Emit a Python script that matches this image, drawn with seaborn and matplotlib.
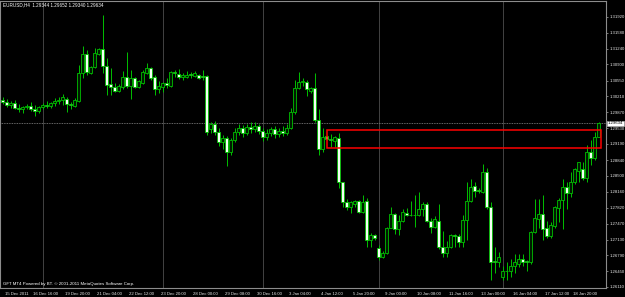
import numpy as np
import pandas as pd
import matplotlib
matplotlib.use("Agg")
import matplotlib.pyplot as plt
import matplotlib.transforms as mtransforms
from matplotlib.patches import Rectangle
import seaborn as sns

# ---------------- data (EURUSD H4) ----------------
opens = [1.3014, 1.3010, 1.3003, 1.3008, 1.2997, 1.2993, 1.2999, 1.3001, 1.2995, 1.2990,
         1.2999, 1.3003, 1.3001, 1.3008, 1.3012, 1.3014, 1.3016, 1.3005, 1.3001, 1.3012,
         1.3072, 1.3113, 1.3072, 1.3085, 1.3113, 1.3124, 1.3087, 1.3048, 1.3042, 1.3033,
         1.3042, 1.3063, 1.3044, 1.3061, 1.3042, 1.3051, 1.3072, 1.3083, 1.3063, 1.3036,
         1.3042, 1.3051, 1.3044, 1.3074, 1.3070, 1.3063, 1.3063, 1.3070, 1.3066, 1.3068,
         1.3066, 1.3066, 1.2950, 1.2962, 1.2945, 1.2924, 1.2932, 1.2902, 1.2928, 1.2945,
         1.2954, 1.2943, 1.2956, 1.2950, 1.2958, 1.2947, 1.2934, 1.2943, 1.2950, 1.2941,
         1.2947, 1.2943, 1.2954, 1.2988, 1.3040, 1.3053, 1.3053, 1.3033, 1.3040, 1.2971,
         1.2907, 1.2937, 1.2930, 1.2926, 1.2932, 1.2836, 1.2793, 1.2784, 1.2790, 1.2795,
         1.2773, 1.2795, 1.2713, 1.2722, 1.2694, 1.2676, 1.2685, 1.2739, 1.2769, 1.2735,
         1.2754, 1.2771, 1.2767, 1.2765, 1.2765, 1.2778, 1.2790, 1.2752, 1.2741, 1.2752,
         1.2698, 1.2685, 1.2696, 1.2722, 1.2720, 1.2707, 1.2756, 1.2795, 1.2829, 1.2820,
         1.2816, 1.2859, 1.2784, 1.2666, 1.2664, 1.2633, 1.2646, 1.2646, 1.2657, 1.2661,
         1.2672, 1.2666, 1.2664, 1.2730, 1.2758, 1.2769, 1.2737, 1.2720, 1.2743, 1.2782,
         1.2799, 1.2827, 1.2814, 1.2836, 1.2861, 1.2864, 1.2846, 1.2902, 1.2889, 1.29344]
highs = [1.3020, 1.3016, 1.3012, 1.3014, 1.3005, 1.3001, 1.3005, 1.3010, 1.3003, 1.3001,
         1.3008, 1.3012, 1.3010, 1.3018, 1.3020, 1.3027, 1.3020, 1.3010, 1.3018, 1.3089,
         1.3130, 1.3122, 1.3087, 1.3126, 1.3126, 1.3197, 1.3104, 1.3083, 1.3051, 1.3048,
         1.3076, 1.3117, 1.3079, 1.3063, 1.3057, 1.3079, 1.3094, 1.3085, 1.3068, 1.3055,
         1.3053, 1.3061, 1.3076, 1.3079, 1.3081, 1.3072, 1.3076, 1.3074, 1.3076, 1.3070,
         1.3079, 1.3068, 1.2967, 1.2969, 1.2954, 1.2939, 1.2937, 1.2932, 1.2954, 1.2962,
         1.2960, 1.2962, 1.2965, 1.2967, 1.2962, 1.2954, 1.2950, 1.2956, 1.2958, 1.2954,
         1.2958, 1.2962, 1.2997, 1.3057, 1.3074, 1.3061, 1.3057, 1.3042, 1.3072, 1.2995,
         1.2954, 1.2939, 1.2941, 1.2937, 1.2943, 1.2838, 1.2801, 1.2795, 1.2799, 1.2799,
         1.2810, 1.2803, 1.2728, 1.2724, 1.2702, 1.2689, 1.2741, 1.2784, 1.2771, 1.2765,
         1.2778, 1.2782, 1.2795, 1.2810, 1.2816, 1.2793, 1.2793, 1.2760, 1.2763, 1.2790,
         1.2732, 1.2709, 1.2724, 1.2724, 1.2724, 1.2767, 1.2838, 1.2844, 1.2836, 1.2825,
         1.2876, 1.2868, 1.2793, 1.2696, 1.2687, 1.2657, 1.2664, 1.2672, 1.2681, 1.2681,
         1.2683, 1.2670, 1.2732, 1.2801, 1.2801, 1.2808, 1.2752, 1.2750, 1.2786, 1.2803,
         1.2844, 1.2838, 1.2859, 1.2868, 1.2881, 1.2881, 1.2917, 1.2928, 1.2945, 1.29652]
lows = [1.3005, 1.2999, 1.2997, 1.2993, 1.2988, 1.2986, 1.2995, 1.2990, 1.2980, 1.2986,
        1.2995, 1.2997, 1.2997, 1.3001, 1.3005, 1.3003, 1.2988, 1.2993, 1.2999, 1.3010,
        1.3061, 1.3068, 1.3070, 1.3083, 1.3111, 1.3072, 1.3025, 1.3025, 1.3031, 1.3031,
        1.3036, 1.3040, 1.3016, 1.3040, 1.3040, 1.3048, 1.3070, 1.3057, 1.3025, 1.3029,
        1.3031, 1.3040, 1.3042, 1.3063, 1.3059, 1.3057, 1.3061, 1.3061, 1.3063, 1.3059,
        1.3057, 1.2939, 1.2943, 1.2939, 1.2915, 1.2907, 1.2872, 1.2894, 1.2924, 1.2939,
        1.2934, 1.2939, 1.2943, 1.2945, 1.2941, 1.2926, 1.2928, 1.2937, 1.2932, 1.2934,
        1.2937, 1.2939, 1.2950, 1.2984, 1.3036, 1.3044, 1.3023, 1.3029, 1.2967, 1.2896,
        1.2902, 1.2928, 1.2913, 1.2913, 1.2825, 1.2784, 1.2776, 1.2771, 1.2784, 1.2771,
        1.2771, 1.2698, 1.2698, 1.2713, 1.2670, 1.2674, 1.2683, 1.2737, 1.2724, 1.2722,
        1.2750, 1.2763, 1.2763, 1.2741, 1.2763, 1.2763, 1.2750, 1.2728, 1.2739, 1.2692,
        1.2676, 1.2676, 1.2694, 1.2698, 1.2698, 1.2698, 1.2713, 1.2793, 1.2805, 1.2814,
        1.2814, 1.2778, 1.2627, 1.2642, 1.2655, 1.2627, 1.2627, 1.2633, 1.2642, 1.2653,
        1.2657, 1.2646, 1.2661, 1.2728, 1.2739, 1.2713, 1.2717, 1.2717, 1.2739, 1.2750,
        1.2735, 1.2778, 1.2805, 1.2833, 1.2838, 1.2842, 1.2838, 1.2874, 1.2885, 1.29340]
closes = [1.3010, 1.3003, 1.3008, 1.2997, 1.2993, 1.2999, 1.3001, 1.2995, 1.2990, 1.2999,
          1.3003, 1.3001, 1.3008, 1.3012, 1.3014, 1.3020, 1.3005, 1.3003, 1.3014, 1.3072,
          1.3113, 1.3074, 1.3085, 1.3115, 1.3124, 1.3087, 1.3046, 1.3042, 1.3033, 1.3044,
          1.3063, 1.3044, 1.3061, 1.3042, 1.3055, 1.3074, 1.3083, 1.3061, 1.3038, 1.3044,
          1.3051, 1.3046, 1.3074, 1.3072, 1.3063, 1.3068, 1.3068, 1.3068, 1.3072, 1.3061,
          1.3063, 1.2945, 1.2962, 1.2945, 1.2924, 1.2932, 1.2902, 1.2928, 1.2945, 1.2954,
          1.2943, 1.2956, 1.2950, 1.2958, 1.2947, 1.2934, 1.2943, 1.2950, 1.2941, 1.2947,
          1.2943, 1.2954, 1.2988, 1.3040, 1.3053, 1.3055, 1.3036, 1.3040, 1.2971, 1.2907,
          1.2934, 1.2930, 1.2927, 1.2934, 1.2836, 1.2793, 1.2784, 1.2793, 1.2797, 1.2773,
          1.2793, 1.2713, 1.2722, 1.2717, 1.2676, 1.2685, 1.2739, 1.2769, 1.2735, 1.2754,
          1.2773, 1.2767, 1.2765, 1.2767, 1.2778, 1.2790, 1.2752, 1.2741, 1.2758, 1.2696,
          1.2685, 1.2696, 1.2722, 1.2720, 1.2707, 1.2756, 1.2795, 1.2827, 1.2818, 1.2818,
          1.2859, 1.2784, 1.2664, 1.2664, 1.2676, 1.2646, 1.2645, 1.2657, 1.2664, 1.2672,
          1.2664, 1.2665, 1.2730, 1.2760, 1.2769, 1.2735, 1.2720, 1.2745, 1.2784, 1.2799,
          1.2827, 1.2814, 1.2838, 1.2864, 1.2879, 1.2846, 1.2902, 1.2889, 1.2934, 1.29634]

x_label_text = ["15 Dec 2011", "16 Dec 16:00", "19 Dec 20:00", "21 Dec 04:00", "22 Dec 12:00",
                "23 Dec 20:00", "28 Dec 00:00", "29 Dec 08:00", "30 Dec 16:00", "3 Jan 04:00",
                "4 Jan 12:00", "5 Jan 20:00", "9 Jan 00:00", "10 Jan 08:00", "11 Jan 16:00",
                "13 Jan 00:00", "16 Jan 04:00", "17 Jan 12:00", "18 Jan 20:00"]
x_label_bars = [0, 7, 15, 23, 31, 39, 47, 55, 63, 71, 79, 87, 95, 103, 111, 119, 127, 135, 142]
y_ticks = [1.31920, 1.31580, 1.31240, 1.30900, 1.30550, 1.30210, 1.29870, 1.29530, 1.29190,
           1.28840, 1.28500, 1.28160, 1.27820, 1.27470, 1.27130, 1.26790, 1.26450, 1.26110]
week_start_bars = [10, 40, 65, 94, 125]
bid_price = 1.29634
zone_bars = (81, 149.6)
zone_prices = (1.29097, 1.29484)
title_text = "EURUSD,H4  1.29344 1.29652 1.29340 1.29634"
footer_text = "GFT MT4 Powered by BT. \u00a9 2001-2011 MetaQuotes Software Corp."

# ---------------- style ----------------
sns.set_theme(style="dark", rc={"axes.facecolor": "black", "figure.facecolor": "black"})
plt.rcParams["font.family"] = ["Liberation Sans", "DejaVu Sans"]

W, H = 625, 297
fig = plt.figure(figsize=(W / 100, H / 100), dpi=100)
fig.patch.set_facecolor("black")
ax = fig.add_axes([0, 9 / H, 606 / W, 287 / H])
ax.set_facecolor("black")

df = pd.DataFrame({"open": opens, "high": highs, "low": lows, "close": closes})
df["bar"] = np.arange(len(df))
up = df["close"] >= df["open"]
body_lo = np.minimum(df["open"], df["close"])
body_h = (df["close"] - df["open"]).abs()

wick = "#00c000"
ax.vlines(df["bar"], df["low"], df["high"], color=wick, linewidth=0.7, zorder=3)
ax.bar(df["bar"][up], body_h[up], bottom=body_lo[up], width=0.72,
       color="#001a00", edgecolor=wick, linewidth=0.6, zorder=4)
ax.bar(df["bar"][~up], body_h[~up], bottom=body_lo[~up], width=0.72,
       color="#f4fff4", edgecolor=wick, linewidth=0.6, zorder=4)

# period separators and bid line
for b in week_start_bars:
    ax.axvline(b, color="#9a9a9a", linestyle=(0, (1.2, 1.2)), linewidth=0.6, zorder=1)
ax.axhline(bid_price, color="#8a8a8a", linestyle=(0, (1, 1)), linewidth=0.6, zorder=1)

# red zone rectangle
ax.add_patch(Rectangle((zone_bars[0], zone_prices[0]), zone_bars[1] - zone_bars[0],
                       zone_prices[1] - zone_prices[0], fill=False,
                       edgecolor="#ff0000", linewidth=1.1, zorder=5))

# limits
step = (y_ticks[0] - y_ticks[-1]) / 270.0
ax.set_ylim(y_ticks[-1] - 1 * step, y_ticks[0] + 16 * step)
ax.set_xlim(-2.7 / 4, (606 - 2.7) / 4)

# axes styling
for s in ax.spines.values():
    s.set_color("#8c8c8c")
    s.set_linewidth(0.8)
ax.grid(False)
ax.yaxis.tick_right()
ax.set_yticks(y_ticks)
ax.set_yticklabels([f"{v:.5f}" for v in y_ticks])
ax.tick_params(axis="y", colors="#8c8c8c", labelcolor="#e8e8e8", length=1.5, width=0.6,
               pad=1.0, labelsize=3.1, direction="out")
ax.set_xticks(x_label_bars)
ax.set_xticklabels(x_label_text)
ax.tick_params(axis="x", colors="#8c8c8c", labelcolor="#e8e8e8", length=2, width=0.6,
               pad=0.8, labelsize=3.1, direction="out")
offset = mtransforms.ScaledTranslation(2 / 100, 0, fig.dpi_scale_trans)
for lab in ax.get_xticklabels():
    lab.set_horizontalalignment("left")
    lab.set_transform(lab.get_transform() + offset)

# current price box
trans = mtransforms.blended_transform_factory(ax.transAxes, ax.transData)
ax.text(1.0 + 2.0 / 606, bid_price, f"{bid_price:.5f}", transform=trans, ha="left",
        va="center", fontsize=3.1, color="black", zorder=10, clip_on=False,
        bbox=dict(facecolor="white", edgecolor="#c0c0c0", pad=0.5, linewidth=0.4))

fig.text(3 / W, 1 - 5 / H, title_text, color="white", fontsize=3.3, ha="left", va="center")
fig.text(3 / W, 1 - 284 / H, footer_text, color="white", fontsize=3.2, ha="left", va="center")

fig.savefig("out.png", dpi=100, facecolor="black")
